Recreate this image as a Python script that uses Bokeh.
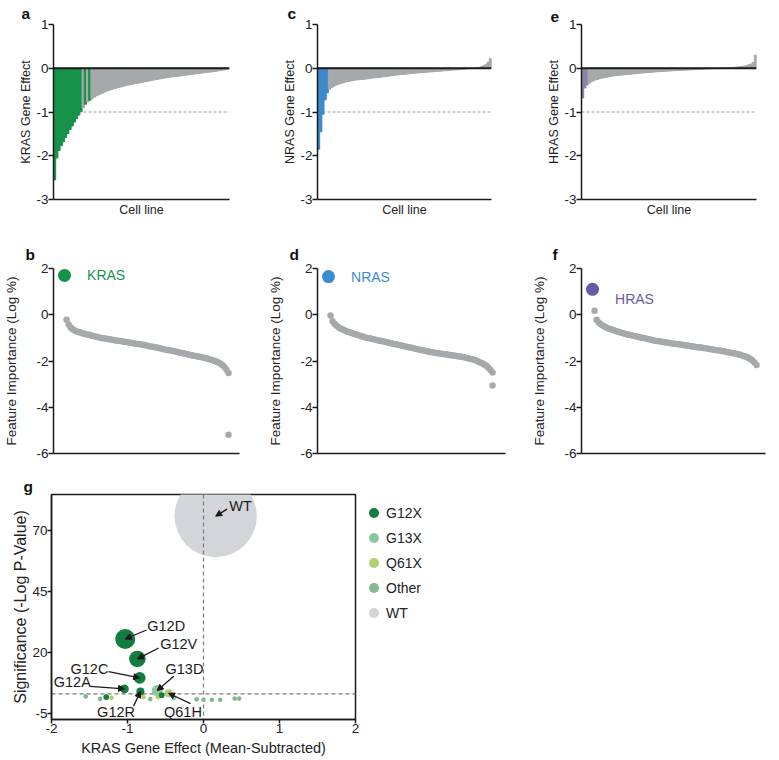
from bokeh.plotting import figure
from bokeh.layouts import row, column
from bokeh.models import (Range1d, FixedTicker, Span, Arrow, NormalHead,
                          Legend, LegendItem)
from bokeh.embed import file_html
from bokeh.resources import INLINE
from bokeh.core.properties import value

FONT = "Liberation Sans"
GRAY = "#a6a9ab"
INK = "#1a1a1a"

# ---------------- data: panels a, c, e (sorted gene effect per cell line) -------------
effect_ticks = [-3, -2, -1, 0, 1]
kras_effect = [-2.55, -2.05, -1.88, -1.77, -1.68, -1.58, -1.49, -1.40, -1.32, -1.23,
               -1.15, -1.07, -0.99, -0.90, -0.82, -0.77, -0.73, -0.70, -0.66, -0.63,
               -0.61, -0.585, -0.565, -0.54, -0.52, -0.50, -0.485, -0.47, -0.455, -0.44,
               -0.43, -0.415, -0.40, -0.39, -0.38, -0.37, -0.36, -0.35, -0.34, -0.33,
               -0.32, -0.31, -0.30, -0.29, -0.28, -0.27, -0.26, -0.25, -0.24, -0.235,
               -0.225, -0.215, -0.21, -0.20, -0.195, -0.19, -0.18, -0.175, -0.17, -0.16,
               -0.155, -0.15, -0.14, -0.135, -0.13, -0.12, -0.115, -0.11, -0.10, -0.095,
               -0.09, -0.085, -0.08, -0.07, -0.065, -0.055, -0.05, -0.04, -0.03, -0.01]
kras_mutant_bars = [0, 1, 2, 3, 4, 5, 6, 7, 8, 9, 10, 11, 12, 14, 16]

nras_effect = [-1.85, -1.45, -1.05, -0.72, -0.56, -0.48, -0.44, -0.41, -0.385, -0.365,
               -0.35, -0.335, -0.32, -0.31, -0.30, -0.29, -0.28, -0.27, -0.265, -0.26,
               -0.255, -0.25, -0.245, -0.24, -0.23, -0.225, -0.22, -0.215, -0.21, -0.20,
               -0.195, -0.19, -0.18, -0.175, -0.165, -0.16, -0.155, -0.15, -0.145, -0.14,
               -0.135, -0.13, -0.125, -0.12, -0.115, -0.11, -0.106, -0.102, -0.098, -0.094,
               -0.09, -0.086, -0.082, -0.078, -0.074, -0.07, -0.066, -0.062, -0.058, -0.054,
               -0.05, -0.046, -0.042, -0.038, -0.034, -0.03, -0.026, -0.021, -0.016, -0.01,
               -0.005, 0.0, 0.005, 0.01, 0.02, 0.04, 0.06, 0.09, 0.14, 0.22]
nras_mutant_bars = [0, 1, 2, 3, 4]

hras_effect = [-0.68, -0.45, -0.38, -0.34, -0.31, -0.285, -0.265, -0.25, -0.235, -0.225,
               -0.215, -0.205, -0.195, -0.185, -0.175, -0.17, -0.165, -0.16, -0.155, -0.15,
               -0.145, -0.14, -0.135, -0.13, -0.125, -0.12, -0.115, -0.11, -0.105, -0.10,
               -0.097, -0.094, -0.09, -0.086, -0.082, -0.078, -0.075, -0.072, -0.068, -0.065,
               -0.062, -0.059, -0.056, -0.053, -0.05, -0.048, -0.046, -0.044, -0.042, -0.039,
               -0.036, -0.033, -0.03, -0.027, -0.024, -0.021, -0.018, -0.015, -0.012, -0.01,
               -0.008, -0.006, -0.004, -0.002, 0.0, 0.003, 0.007, 0.011, 0.015, 0.02,
               0.025, 0.03, 0.036, 0.043, 0.052, 0.063, 0.078, 0.097, 0.13, 0.30]
hras_mutant_bars = [0, 1, 2]

# ---------------- data: panels b, d, f (feature importance, log %) -------------------
importance_ticks = [-6, -4, -2, 0, 2]
kras_importance_self = 1.70
kras_importance_other = [-0.22, -0.42, -0.55, -0.63, -0.68, -0.72, -0.75, -0.78, -0.81, -0.83,
                         -0.85, -0.87, -0.90, -0.92, -0.94, -0.96, -0.98, -1.00, -1.02, -1.03,
                         -1.05, -1.06, -1.08, -1.09, -1.11, -1.12, -1.14, -1.15, -1.17, -1.18,
                         -1.19, -1.21, -1.22, -1.24, -1.25, -1.27, -1.28, -1.30, -1.31, -1.33,
                         -1.35, -1.37, -1.38, -1.40, -1.42, -1.44, -1.46, -1.48, -1.50, -1.52,
                         -1.54, -1.55, -1.57, -1.59, -1.61, -1.63, -1.65, -1.67, -1.69, -1.71,
                         -1.73, -1.75, -1.77, -1.78, -1.80, -1.82, -1.84, -1.86, -1.88, -1.90,
                         -1.93, -1.96, -1.99, -2.02, -2.06, -2.11, -2.17, -2.26, -2.38, -2.52]
kras_importance_outlier = [-5.19]

nras_importance_self = 1.65
nras_importance_other = [-0.03, -0.28, -0.40, -0.48, -0.55, -0.60, -0.64, -0.68, -0.72, -0.75,
                         -0.78, -0.81, -0.84, -0.87, -0.90, -0.93, -0.95, -0.98, -1.00, -1.02,
                         -1.04, -1.06, -1.08, -1.10, -1.12, -1.14, -1.16, -1.18, -1.20, -1.22,
                         -1.24, -1.26, -1.28, -1.30, -1.32, -1.34, -1.36, -1.38, -1.40, -1.42,
                         -1.44, -1.46, -1.48, -1.50, -1.52, -1.54, -1.56, -1.58, -1.60, -1.61,
                         -1.63, -1.64, -1.66, -1.67, -1.69, -1.70, -1.71, -1.72, -1.74, -1.75,
                         -1.76, -1.77, -1.79, -1.80, -1.82, -1.84, -1.86, -1.88, -1.90, -1.92,
                         -1.95, -1.98, -2.02, -2.06, -2.10, -2.15, -2.21, -2.29, -2.39, -2.50]
nras_importance_outlier = [-3.06]

hras_importance_self = 1.10
hras_importance_other = [0.17, -0.22, -0.33, -0.41, -0.47, -0.52, -0.56, -0.60, -0.63, -0.66,
                         -0.69, -0.72, -0.75, -0.78, -0.80, -0.83, -0.85, -0.87, -0.89, -0.91,
                         -0.93, -0.95, -0.97, -0.99, -1.01, -1.03, -1.05, -1.07, -1.09, -1.11,
                         -1.13, -1.14, -1.16, -1.17, -1.19, -1.20, -1.21, -1.23, -1.24, -1.25,
                         -1.27, -1.28, -1.29, -1.31, -1.32, -1.33, -1.34, -1.36, -1.37, -1.38,
                         -1.40, -1.41, -1.42, -1.44, -1.45, -1.46, -1.48, -1.49, -1.51, -1.52,
                         -1.54, -1.55, -1.57, -1.58, -1.60, -1.62, -1.63, -1.65, -1.67, -1.69,
                         -1.71, -1.73, -1.76, -1.79, -1.82, -1.86, -1.91, -1.98, -2.07, -2.17]
hras_importance_outlier = []

# ---------------- data: panel g (KRAS allele volcano) ---------------------------------
g_xticks = [-2, -1, 0, 1, 2]
g_yticks = [-5, 20, 45, 70]
g_mutation = ["WT", "G12D", "G12V", "G12C", "G12A", "G12R", "G13D", "Q61H",
              "", "", "", "", "", "", "", "", "", "", "", "", "", "", ""]
g_class = ["WT", "G12X", "G12X", "G12X", "G12X", "G12X", "G13X", "Q61X",
           "Other", "Other", "G12X", "Q61X", "Q61X", "Other", "Q61X", "G12X", "G13X",
           "Other", "Other", "Other", "Other", "Other", "Other"]
g_effect = [0.16, -1.03, -0.87, -0.84, -1.04, -0.83, -0.61, -0.46,
            -1.55, -1.36, -1.28, -1.21, -0.79, -0.70, -0.60, -0.55, -0.39,
            -0.09, 0.00, 0.11, 0.22, 0.41, 0.47]
g_signif = [76.1, 25.6, 17.4, 9.6, 5.1, 4.0, 4.4, 3.3,
            2.0, 1.0, 1.7, 1.4, 1.7, 0.9, 1.7, 2.5, 1.3,
            0.8, 0.6, 0.6, 0.6, 1.1, 1.1]
g_ncells = [620, 37, 25, 13, 7, 6, 11, 6,
            2, 2, 3, 2, 2, 2, 2, 3, 2,
            2, 2, 2, 2, 2, 2]
g_classes = ["G12X", "G13X", "Q61X", "Other", "WT"]
g_class_colors = {"G12X": "#137d40", "G13X": "#8ec89a", "Q61X": "#afd26f",
                  "Other": "#86b78d", "WT": "#d3d5d8"}
sig_threshold = 3.0


# ---------------- helpers ----------------
def style(p, tick_size, label_size):
    p.grid.visible = False
    p.outline_line_color = None
    for ax in p.axis:
        ax.axis_line_color = INK
        ax.axis_line_width = 1.5
        ax.major_tick_line_color = INK
        ax.major_tick_line_width = 1.5
        ax.major_tick_in = 0
        ax.major_tick_out = 5
        ax.minor_tick_line_color = None
        ax.major_label_text_font = FONT
        ax.major_label_text_font_size = tick_size
        ax.major_label_text_color = "#222222"
        ax.major_label_standoff = 0
        ax.axis_label_text_font = FONT
        ax.axis_label_text_font_size = label_size
        ax.axis_label_text_font_style = "normal"
        ax.axis_label_text_color = "#222222"


def set_ticks(ax, ticks):
    ax.ticker = FixedTicker(ticks=ticks)
    ax.major_label_overrides = {t: str(t) for t in ticks}


def letter(p, txt, offset, standoff):
    # panel letter drawn as the figure title, shifted left of the frame
    p.title.text = txt
    p.title.align = "left"
    p.title.offset = offset
    p.title.standoff = standoff
    p.title.text_font = FONT
    p.title.text_font_size = "15.5px"
    p.title.text_font_style = "bold"
    p.title.text_color = "#111111"


TOP1, FH1, BOT1 = 23, 175, 27


def effect_panel(vals, mutant_bars, mut_color, ylabel, tag, fw, right, loff):
    n = len(vals)
    p = figure(frame_width=fw, frame_height=FH1, x_range=Range1d(-0.5, n - 0.5),
               y_range=Range1d(-3, 1), output_backend="svg", toolbar_location=None,
               min_border_left=53, min_border_right=right, min_border_top=TOP1,
               min_border_bottom=BOT1, title=" ")
    style(p, "13.5px", "12.5px")
    colors = [mut_color if i in mutant_bars else GRAY for i in range(n)]
    p.add_layout(Span(location=-1, dimension="width", line_color="#9a9a9a",
                      line_dash="3 2", line_width=1, level="underlay"))
    # gap-free gray base under the per-cell-line bars
    edges = [i - 0.5 for i in range(n)] + [n - 0.5]
    p.varea_step(x=edges, y1=[0] * (n + 1), y2=list(vals) + [vals[-1]],
                 step_mode="after", fill_color=GRAY)
    p.vbar(x=list(range(n)), width=1.0, top=vals, bottom=0, fill_color=colors,
           line_color=colors, line_width=1.0)
    p.add_layout(Span(location=0, dimension="width", line_color=INK, line_width=2))
    set_ticks(p.yaxis[0], effect_ticks)
    p.yaxis.axis_label = ylabel
    p.yaxis.axis_label_standoff = 0
    p.xaxis.ticker = FixedTicker(ticks=[])
    p.xaxis.axis_label = "Cell line"
    p.xaxis.axis_label_standoff = 3
    letter(p, tag, loff, 5)
    return p


TOP2, FH2, BOT2 = 42, 185, 10


def importance_panel(self_val, others, outlier, color, name, name_dy, tag, fw, right,
                     loff):
    p = figure(frame_width=fw, frame_height=FH2, x_range=Range1d(-5.37, -5.37 + fw / 2.05),
               y_range=Range1d(-6, 2), output_backend="svg", toolbar_location=None,
               min_border_left=53, min_border_right=right, min_border_top=TOP2,
               min_border_bottom=BOT2, title=" ")
    style(p, "13.5px", "13.5px")
    idx = list(range(1, len(others) + 1))
    p.scatter(idx, others, size=6.5, fill_color=GRAY, line_color=None)
    if outlier:
        p.scatter([len(others)] * len(outlier), outlier, size=6.5, fill_color=GRAY,
                  line_color=None)
    p.scatter([0], [self_val], size=13, fill_color=color, line_color=None)
    p.text(x=[11], y=[self_val + name_dy], text=[name], text_color=color,
           text_font=value(FONT), text_font_size="14px", text_baseline="middle",
           text_align="left")
    set_ticks(p.yaxis[0], importance_ticks)
    p.yaxis.axis_label = "Feature Importance (Log %)"
    p.yaxis.axis_label_standoff = 14
    p.xaxis.ticker = FixedTicker(ticks=[])
    letter(p, tag, loff, 11)
    return p


# ---------------- top row ----------------
pa = effect_panel(kras_effect, kras_mutant_bars, "#17924b", "KRAS Gene Effect", "a",
                  176, 35, -32)
pc = effect_panel(nras_effect, nras_mutant_bars, "#3d8acb", "NRAS Gene Effect", "c",
                  174, 37, -30)
pe = effect_panel(hras_effect, hras_mutant_bars, "#8a86a8", "HRAS Gene Effect", "e",
                  175, 10, -31)

# ---------------- middle row ----------------
pb = importance_panel(kras_importance_self, kras_importance_other, kras_importance_outlier,
                      "#16934b", "KRAS", 0.0, "b", 186, 25, -28)
pd = importance_panel(nras_importance_self, nras_importance_other, nras_importance_outlier,
                      "#3b8bd0", "NRAS", 0.0, "d", 188, 23, -28)
pf = importance_panel(hras_importance_self, hras_importance_other, hras_importance_outlier,
                      "#6b57a7", "HRAS", -0.41, "f", 184, 5, -29)

# ---------------- bottom: panel g ----------------
TOP3, FH3, BOT3 = 31, 225, 39
pg = figure(frame_width=304, frame_height=FH3, x_range=Range1d(-2, 2),
            y_range=Range1d(-7.5, 85), output_backend="svg", toolbar_location=None,
            min_border_left=51, min_border_right=120, min_border_top=TOP3,
            min_border_bottom=BOT3, title=" ")
style(pg, "13.5px", "14.5px")
pg.yaxis.axis_label_text_font_size = "16px"
pg.xaxis.major_tick_out = 4
pg.yaxis.major_tick_out = 4
pg.outline_line_color = INK
pg.outline_line_width = 1.5
set_ticks(pg.xaxis[0], g_xticks)
set_ticks(pg.yaxis[0], g_yticks)
pg.xaxis.axis_label = "KRAS Gene Effect (Mean-Subtracted)"
pg.yaxis.axis_label = "Significance (-Log P-Value)"
pg.xaxis.axis_label_standoff = 4
pg.yaxis.axis_label_standoff = 0

renderers = {}
draw_order = ["WT", "Other", "Q61X", "G13X", "G12X"]
for cls in draw_order:
    xs = [x for x, c in zip(g_effect, g_class) if c == cls]
    ys = [y for y, c in zip(g_signif, g_class) if c == cls]
    ss = [3.3 * n ** 0.5 for n, c in zip(g_ncells, g_class) if c == cls]
    r = pg.scatter(xs, ys, size=ss, fill_color=g_class_colors[cls], line_color=None)
    if cls == "WT":
        r.level = "underlay"
        pg.add_layout(Span(location=0, dimension="height", line_color="#7a7a7a",
                           line_dash="4 3", line_width=1.2, level="underlay"))
        pg.add_layout(Span(location=sig_threshold, dimension="width", line_color="#7a7a7a",
                           line_dash="4 3", line_width=1.2, level="underlay"))
    renderers[cls] = r

# call-out label placement (text left/middle position, arrow tail), data units
callouts = {
    "WT": (0.34, 80.2, 0.31, 79.0),
    "G12D": (-0.74, 31.1, -0.75, 29.3),
    "G12V": (-0.57, 23.6, -0.59, 21.9),
    "G12C": (-1.75, 13.3, -1.25, 12.2),
    "G12A": (-1.97, 7.8, -1.49, 6.1),
    "G13D": (-0.50, 13.3, -0.39, 10.3),
    "G12R": (-1.40, -4.5, -0.92, -2.0),
    "Q61H": (-0.52, -4.5, -0.17, -1.0),
}
tx, ty, tt = [], [], []
for name, x, y in zip(g_mutation, g_effect, g_signif):
    if name in callouts:
        lx, ly, ax0, ay0 = callouts[name]
        tx.append(lx)
        ty.append(ly)
        tt.append(name)
        pg.add_layout(Arrow(end=NormalHead(size=6, fill_color=INK, line_color=INK,
                                           line_width=1),
                            x_start=ax0, y_start=ay0, x_end=x, y_end=y,
                            line_color=INK, line_width=1.3))
pg.text(x=tx, y=ty, text=tt, text_font=value(FONT), text_font_size="14.5px",
        text_color="#1a1a1a", text_baseline="middle", text_align="left")

legend = Legend(items=[LegendItem(label=c, renderers=[renderers[c]]) for c in g_classes],
                location="top_left", glyph_width=25, glyph_height=25, label_height=17,
                spacing=-8, label_standoff=0, padding=0, margin=6,
                border_line_color=None, background_fill_alpha=0,
                label_text_font=FONT, label_text_font_size="14px",
                label_text_color="#222222")
pg.add_layout(legend, "right")
letter(pg, "g", -28, 0)

layout = column(row(pa, pc, pe), row(pb, pd, pf), row(pg))
open("out.html", "w").write(file_html(layout, INLINE))
